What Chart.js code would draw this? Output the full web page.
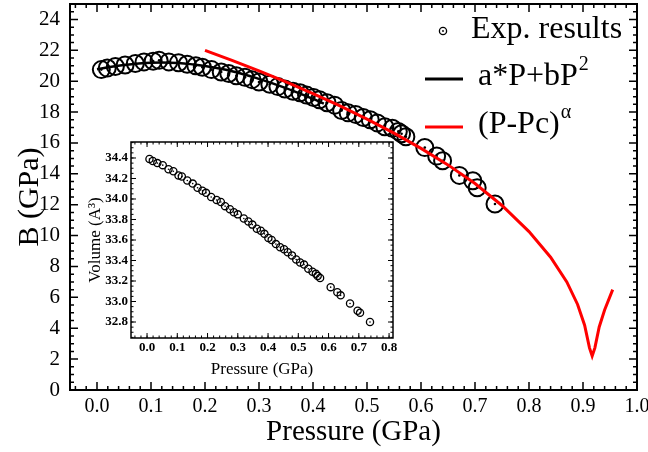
<!DOCTYPE html>
<html><head><meta charset="utf-8">
<script src="https://cdn.jsdelivr.net/npm/chart.js@4.4.0/dist/chart.umd.min.js"></script>
<style>
html,body{margin:0;padding:0;background:#fff;}
#wrap{position:relative;width:648px;height:452px;overflow:hidden;}
#main{position:absolute;left:0;top:0;}
#inset{position:absolute;left:80px;top:130px;}
</style></head><body>
<div id="wrap"><canvas id="main" width="648" height="452"></canvas><canvas id="inset" width="325" height="250"></canvas></div>
<script>
// ---- data ----
const expPressure = [0.008,0.019,0.034,0.052,0.071,0.087,0.104,0.115,0.133,0.151,0.167,0.183,0.195,0.212,0.230,0.244,0.258,0.274,0.287,0.300,0.320,0.335,0.348,0.363,0.376,0.388,0.401,0.412,0.426,0.440,0.453,0.465,0.479,0.493,0.506,0.519,0.533,0.547,0.558,0.564,0.572,0.607,0.629,0.640,0.671,0.696,0.704,0.737];
const expModulus  = [20.75,20.85,20.95,21.05,21.15,21.25,21.30,21.35,21.25,21.20,21.10,21.00,20.90,20.75,20.60,20.50,20.35,20.25,20.10,19.95,19.80,19.65,19.50,19.35,19.25,19.10,18.95,18.80,18.60,18.45,18.10,17.95,17.85,17.65,17.50,17.30,17.05,16.95,16.75,16.60,16.40,15.70,15.15,14.85,13.90,13.55,13.10,12.05];
const fitPressure = [0.0,0.05,0.10,0.15,0.20,0.25,0.30,0.35,0.40,0.42];
const fitModulus  = [20.78,21.05,21.20,21.18,20.98,20.65,20.15,19.55,18.85,18.55];
const critPressure = [0.20,0.25,0.30,0.35,0.40,0.45,0.50,0.55,0.60,0.65,0.70,0.75,0.80,0.84,0.87,0.89,0.903,0.912,0.917,0.922,0.930,0.940,0.955];
const critModulus  = [22.0,21.35,20.67,19.95,19.2,18.4,17.54,16.64,15.65,14.58,13.37,11.95,10.26,8.6,7.0,5.54,4.2,2.73,2.2,2.73,4.08,5.18,6.5];
const insetPressure = [0.008,0.019,0.034,0.052,0.071,0.087,0.104,0.115,0.133,0.151,0.167,0.183,0.195,0.212,0.230,0.244,0.258,0.274,0.287,0.300,0.320,0.335,0.348,0.363,0.376,0.388,0.401,0.412,0.426,0.440,0.453,0.465,0.479,0.493,0.506,0.519,0.533,0.547,0.558,0.564,0.572,0.607,0.629,0.640,0.671,0.696,0.704,0.737];
const insetVolume   = [34.39,34.37,34.35,34.33,34.29,34.27,34.23,34.22,34.18,34.15,34.11,34.08,34.06,34.02,33.99,33.97,33.93,33.90,33.87,33.85,33.81,33.78,33.75,33.71,33.69,33.66,33.62,33.60,33.56,33.53,33.51,33.48,33.45,33.41,33.38,33.36,33.32,33.29,33.27,33.25,33.23,33.14,33.09,33.06,32.98,32.91,32.89,32.80];
const mainXTicks = [0.0,0.1,0.2,0.3,0.4,0.5,0.6,0.7,0.8,0.9,1.0];
const mainYTicks = [0,2,4,6,8,10,12,14,16,18,20,22,24];
const insetXTicks = [0.0,0.1,0.2,0.3,0.4,0.5,0.6,0.7,0.8];
const insetYTicks = [32.8,33.0,33.2,33.4,33.6,33.8,34.0,34.2,34.4];
const legendLabels = ['Exp. results','a*P+bP','(P-Pc)'];
const legendSups = ['','2','\u03B1'];

const SERIF = 'Liberation Serif';
const pts = (xs, ys) => xs.map((v, i) => ({x: v, y: ys[i]}));
const noPadX = h => s => { s.height = h; s.paddingLeft = 0; s.paddingRight = 0; };
const noPadY = w => s => { s.width = w; s.paddingTop = 0; s.paddingBottom = 0; };

function frameTicks(o) {
  return {
    id: 'frameTicks',
    afterDatasetsDraw(chart) {
      const {ctx, chartArea: a, scales: {x, y}} = chart;
      ctx.save();
      ctx.strokeStyle = '#000';
      ctx.lineWidth = o.tickW;
      ctx.beginPath();
      const dx = (v, L) => { const p = x.getPixelForValue(v); ctx.moveTo(p, a.bottom); ctx.lineTo(p, a.bottom - L); ctx.moveTo(p, a.top); ctx.lineTo(p, a.top + L); };
      const dy = (v, L) => { const p = y.getPixelForValue(v); ctx.moveTo(a.left, p); ctx.lineTo(a.left + L, p); ctx.moveTo(a.right, p); ctx.lineTo(a.right - L, p); };
      o.xMajor.forEach(v => dx(v, o.L));
      o.yMajor.forEach(v => dy(v, o.L));
      for (let i = Math.ceil(x.min / o.xStep - 1e-6); i * o.xStep <= x.max + 1e-9; i++) dx(i * o.xStep, o.l);
      for (let i = Math.ceil(y.min / o.yStep - 1e-6); i * o.yStep <= y.max + 1e-9; i++) dy(i * o.yStep, o.l);
      ctx.stroke();
      ctx.lineWidth = o.frameW;
      ctx.strokeRect(a.left, a.top, a.right - a.left, a.bottom - a.top);
      ctx.restore();
    }
  };
}

const legendPlugin = {
  id: 'customLegend',
  afterDraw(chart) {
    const ctx = chart.ctx;
    ctx.save();
    ctx.fillStyle = '#000';
    ctx.textBaseline = 'alphabetic';
    ctx.textAlign = 'left';
    ctx.strokeStyle = '#000'; ctx.lineWidth = 1.3;
    ctx.beginPath(); ctx.arc(443, 31, 3.6, 0, Math.PI * 2); ctx.stroke();
    ctx.beginPath(); ctx.arc(443, 31, 0.9, 0, Math.PI * 2); ctx.fill();
    ctx.lineWidth = 3;
    ctx.strokeStyle = '#000'; ctx.beginPath(); ctx.moveTo(425, 79); ctx.lineTo(463, 79); ctx.stroke();
    ctx.strokeStyle = '#ff0000'; ctx.beginPath(); ctx.moveTo(425, 127); ctx.lineTo(463, 127); ctx.stroke();
    const base = [38, 85, 133];
    const xs = [471, 478, 478];
    legendLabels.forEach((t, i) => {
      ctx.font = '32px "' + SERIF + '"';
      ctx.fillText(t, xs[i], base[i]);
      if (legendSups[i]) {
        const w = ctx.measureText(t).width;
        ctx.font = '20px "' + SERIF + '"';
        ctx.fillText(legendSups[i], xs[i] + w + 1, base[i] - 15);
      }
    });
    ctx.restore();
  }
};

new Chart(document.getElementById('main'), {
  type: 'scatter',
  data: {
    datasets: [
      {label: 'crit', data: pts(critPressure, critModulus), showLine: true, borderColor: '#ff0000', borderWidth: 3, pointRadius: 0, tension: 0, order: 0},
      {label: 'fit', data: pts(fitPressure, fitModulus), showLine: true, borderColor: '#000', borderWidth: 2.5, pointRadius: 0, tension: 0.4, order: 1},
      {label: 'dots', data: pts(expPressure, expModulus), pointRadius: 1.3, pointBackgroundColor: '#000', pointBorderWidth: 0, order: 2},
      {label: 'Exp. results', data: pts(expPressure, expModulus), pointRadius: 8.5, pointBorderColor: '#000', pointBorderWidth: 2, pointBackgroundColor: 'rgba(255,255,255,0)', order: 3}
    ]
  },
  options: {
    responsive: false, animation: false, devicePixelRatio: 1,
    layout: {autoPadding: false, padding: {left: 0, right: 11, top: 4, bottom: 0}},
    plugins: {legend: {display: false}, tooltip: {enabled: false}},
    scales: {
      x: {
        type: 'linear', min: -0.05, max: 1.0,
        afterBuildTicks: s => { s.ticks = mainXTicks.map(v => ({value: v})); },
        afterFit: noPadX(62),
        grid: {display: false, drawTicks: false}, border: {display: false},
        ticks: {padding: 5, color: '#000', font: {family: SERIF, size: 20}, callback: v => Number(v).toFixed(1), maxRotation: 0, autoSkip: false},
        title: {display: true, text: 'Pressure (GPa)', color: '#000', font: {family: SERIF, size: 29}, padding: {top: 0, bottom: 2}}
      },
      y: {
        type: 'linear', min: 0, max: 25,
        afterBuildTicks: s => { s.ticks = mainYTicks.map(v => ({value: v})); },
        afterFit: noPadY(70),
        grid: {display: false, drawTicks: false}, border: {display: false},
        ticks: {padding: 10, color: '#000', font: {family: SERIF, size: 21}, callback: v => String(v), autoSkip: false},
        title: {display: true, text: 'B (GPa)', color: '#000', font: {family: SERIF, size: 30}, padding: {top: 12, bottom: 0}}
      }
    }
  },
  plugins: [frameTicks({xMajor: mainXTicks, yMajor: mainYTicks, xStep: 0.02, yStep: 0.5, L: 8, l: 4, tickW: 1.5, frameW: 2}), legendPlugin]
});

new Chart(document.getElementById('inset'), {
  type: 'scatter',
  data: {
    datasets: [
      {label: 'dots', data: pts(insetPressure, insetVolume), pointRadius: 0.8, pointBackgroundColor: '#000', pointBorderWidth: 0, order: 0},
      {label: 'Volume', data: pts(insetPressure, insetVolume), pointRadius: 3.6, pointBorderColor: '#000', pointBorderWidth: 1.3, pointBackgroundColor: 'rgba(255,255,255,0)', order: 1}
    ]
  },
  options: {
    responsive: false, animation: false, devicePixelRatio: 1,
    layout: {autoPadding: false, padding: {left: 0, right: 12, top: 12, bottom: 0}},
    plugins: {legend: {display: false}, tooltip: {enabled: false}},
    scales: {
      x: {
        type: 'linear', min: -0.053, max: 0.813,
        afterBuildTicks: s => { s.ticks = insetXTicks.map(v => ({value: v})); },
        afterFit: noPadX(42),
        grid: {display: false, drawTicks: false}, border: {display: false},
        ticks: {padding: 2, color: '#000', font: {family: SERIF, size: 13, weight: 'bold'}, callback: v => Number(v).toFixed(1), maxRotation: 0, autoSkip: false},
        title: {display: true, text: 'Pressure (GPa)', color: '#000', font: {family: SERIF, size: 17}, padding: {top: 0, bottom: 0}}
      },
      y: {
        type: 'linear', min: 32.644, max: 34.556,
        afterBuildTicks: s => { s.ticks = insetYTicks.map(v => ({value: v})); },
        afterFit: noPadY(51),
        grid: {display: false, drawTicks: false}, border: {display: false},
        ticks: {padding: 3, color: '#000', font: {family: SERIF, size: 13, weight: 'bold'}, callback: v => Number(v).toFixed(1), autoSkip: false},
        title: {display: true, text: 'Volume (A\u00B3)', color: '#000', font: {family: SERIF, size: 17}, padding: {top: 5, bottom: 0}}
      }
    }
  },
  plugins: [frameTicks({xMajor: insetXTicks, yMajor: insetYTicks, xStep: 0.02, yStep: 0.05, L: 5, l: 2.5, tickW: 1, frameW: 1.5})]
});
</script>
</body></html>
